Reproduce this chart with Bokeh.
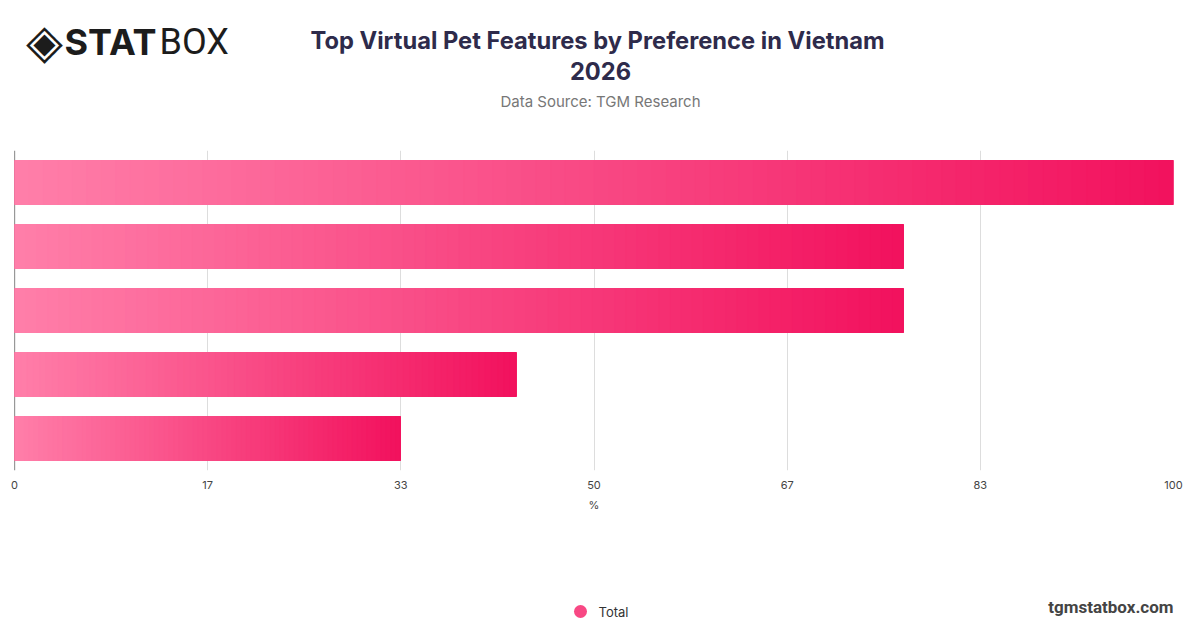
from bokeh.embed import file_html
from bokeh.layouts import column
from bokeh.models import ColumnDataSource, FixedTicker, Label, Range1d, Span
from bokeh.plotting import figure
from bokeh.resources import INLINE

# bars from top to bottom (feature names are not shown in the chart)
shares = [100.0, 76.7, 76.7, 43.3, 33.3]
series_name = "Total"
tick_values = [0, 100 / 6, 200 / 6, 50, 400 / 6, 500 / 6, 100]
tick_labels = ["0", "17", "33", "50", "67", "83", "100"]

title_text = "Top Virtual Pet Features by Preference in Vietnam"
title_year = "2026"
source_text = "Data Source: TGM Research"
footer_text = "tgmstatbox.com"

W = 1200
LEFT, RIGHT = 14, 1173  # plot frame edges in page pixels
LIGHT = (255, 126, 169)
DARK = (242, 18, 94)
STEPS = 80


def mix(t):
    r, g, b = (round(a + (b - a) * t) for a, b in zip(LIGHT, DARK))
    return "#%02x%02x%02x" % (r, g, b)


def blank(height, top, bottom):
    # a plain panel whose data units are page pixels; its frame lines up
    # with the chart frame because the column aligns them
    f = figure(width=W, height=height, output_backend="svg",
               toolbar_location=None, x_range=Range1d(LEFT, RIGHT),
               y_range=Range1d(bottom, top), x_axis_type=None,
               y_axis_type=None, min_border_left=LEFT,
               min_border_right=W - RIGHT, min_border_top=0,
               min_border_bottom=0, outline_line_color=None)
    f.grid.grid_line_color = None
    return f


def text(f, x, y, s, size, color, align="center", font="Inter", style="normal"):
    f.add_layout(Label(x=x, y=y, text=s, text_align=align,
                       text_baseline="middle", text_font=font,
                       text_font_size=size, text_font_style=style,
                       text_color=color))


# header
head = blank(140, 0, 140)
text(head, 597, 40, title_text, "23.7px", "#2e2b4b", style="bold")
text(head, 600, 70, title_year, "23.7px", "#2e2b4b", style="bold")
text(head, 600, 101, source_text, "15px", "#777777")
text(head, 44, 40, "\u25c8", "48px", "#1c1c1c", font="DejaVu Sans")
text(head, 64, 41, "STAT", "36px", "#1c1c1c", align="left", style="bold")
text(head, 159, 41, "BOX", "36px", "#1c1c1c", align="left", font="Roboto")

n = len(shares)
rows = [n - i for i in range(n)]

# each bar is cut into slightly overlapping slices to fake the gradient
ys, lefts, rights, colors = [], [], [], []
for y, v in zip(rows, shares):
    for k in range(STEPS):
        ys.append(y)
        lefts.append(v * k / STEPS)
        rights.append(min(v, v * (k + 1) / STEPS + 0.15))
        colors.append(mix(k / (STEPS - 1)))
src = ColumnDataSource(dict(y=ys, left=lefts, right=rights, color=colors))

p = figure(
    width=W,
    height=400,
    output_backend="svg",
    toolbar_location=None,
    x_range=Range1d(0, 100),
    y_range=Range1d(0.5, n + 0.5),
    y_axis_type=None,
    min_border_left=LEFT,
    min_border_right=W - RIGHT,
    min_border_top=10,
    min_border_bottom=70,
    outline_line_color=None,
)

# solid base under the slices keeps the long edges even
p.hbar(y=rows, right=shares, left=0, height=0.6875, fill_color=mix(0.5),
       line_color=mix(0.5), line_width=1)
p.hbar(y="y", left="left", right="right", height=0.6875, source=src,
       fill_color="color", line_color="color", line_width=1)

p.xaxis.ticker = FixedTicker(ticks=tick_values)
p.xaxis.major_label_overrides = {t: s for t, s in zip(tick_values, tick_labels)}
p.xaxis.axis_line_color = None
p.xaxis.major_tick_line_color = None
p.xaxis.minor_tick_line_color = None
p.xaxis.major_label_standoff = 4
p.xaxis.major_label_text_font = "Inter"
p.xaxis.major_label_text_font_size = "11px"
p.xaxis.major_label_text_color = "#444444"
p.xaxis.axis_label = "%"
p.xaxis.axis_label_standoff = 6
p.xaxis.axis_label_text_font = "Inter"
p.xaxis.axis_label_text_font_size = "11px"
p.xaxis.axis_label_text_font_style = "normal"
p.xaxis.axis_label_text_color = "#444444"
p.xgrid.grid_line_color = "#dddddd"
p.ygrid.grid_line_color = None

p.add_layout(Span(location=0, dimension="height", line_color="#333333",
                  line_width=1.2, level="underlay"))

# footer with legend swatch and site name
foot = blank(88, 540, 628)
text(foot, RIGHT, 606, footer_text, "17px", "#444444", align="right",
     font="Roboto", style="bold")
foot.scatter(x=[580], y=[611], marker="circle", size=13, fill_color=mix(0.5),
             line_color=None)
text(foot, 598, 611, series_name, "13px", "#333333", align="left")

page = column(head, p, foot, spacing=0)
open("out.html", "w").write(file_html(page, INLINE))
